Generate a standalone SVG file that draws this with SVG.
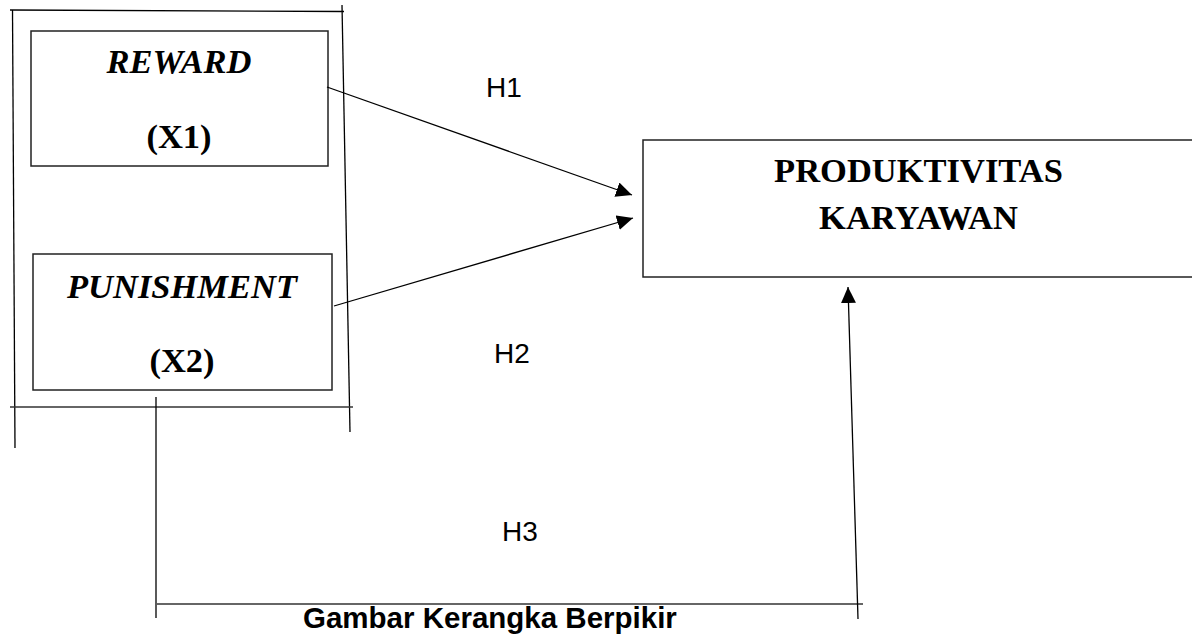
<svg xmlns="http://www.w3.org/2000/svg" width="1192" height="634" viewBox="0 0 1192 634">
<style>
.ln{stroke:#000;stroke-width:1.3;fill:none}
.bx{stroke:#222;stroke-width:1.5;fill:#fff}
.tm{font-family:"Liberation Serif","Times New Roman",serif;font-weight:bold;font-size:34.5px;fill:#000;text-anchor:middle}
.it{font-style:italic}
.ar{font-family:"Liberation Sans",Arial,sans-serif;font-size:28px;fill:#000}
.cap{font-family:"Liberation Sans",Arial,sans-serif;font-size:29.5px;font-weight:bold;fill:#000}
</style>
<defs>
<marker id="ah" markerUnits="userSpaceOnUse" markerWidth="16" markerHeight="16" refX="16" refY="7.5" orient="auto">
<path d="M0,0 L16,7.5 L0,15 z" fill="#000"/>
</marker>
</defs>
<rect width="1192" height="634" fill="#fff"/>
<g id="frame">
<line class="ln" x1="10" y1="10" x2="344" y2="11.5"/>
<line class="ln" x1="12.5" y1="10" x2="15" y2="448"/>
<line class="ln" x1="342" y1="5" x2="350" y2="432"/>
<line class="ln" x1="10" y1="407" x2="353" y2="407" style="stroke:#333;stroke-width:1.6"/>
</g>
<g id="node-reward">
<rect class="bx" x="31" y="31" width="297" height="135"/>
<text class="tm it" x="179" y="73">REWARD</text>
<text class="tm" x="179" y="148">(X1)</text>
</g>
<g id="node-punishment">
<rect class="bx" x="33" y="254" width="299" height="136"/>
<text class="tm it" x="182" y="298">PUNISHMENT</text>
<text class="tm" x="182" y="372">(X2)</text>
</g>
<g id="node-produktivitas">
<rect class="bx" x="643" y="140" width="560" height="137"/>
<text class="tm" x="918.5" y="182">PRODUKTIVITAS</text>
<text class="tm" x="918.5" y="229">KARYAWAN</text>
</g>
<g id="connectors">
<line class="ln" x1="327" y1="87" x2="632" y2="195" marker-end="url(#ah)"/>
<line class="ln" x1="334" y1="306" x2="633" y2="218" marker-end="url(#ah)"/>
<line class="ln" x1="156" y1="397" x2="156" y2="618"/>
<line class="ln" x1="157" y1="604" x2="863" y2="604" style="stroke:#333;stroke-width:1.6"/>
<line class="ln" x1="858" y1="619" x2="848" y2="287" marker-end="url(#ah)"/>
</g>
<g id="labels">
<text class="ar" x="486" y="97">H1</text>
<text class="ar" x="494" y="363">H2</text>
<text class="ar" x="502" y="541">H3</text>
<text class="cap" x="303" y="628">Gambar Kerangka Berpikir</text>
</g>
</svg>
